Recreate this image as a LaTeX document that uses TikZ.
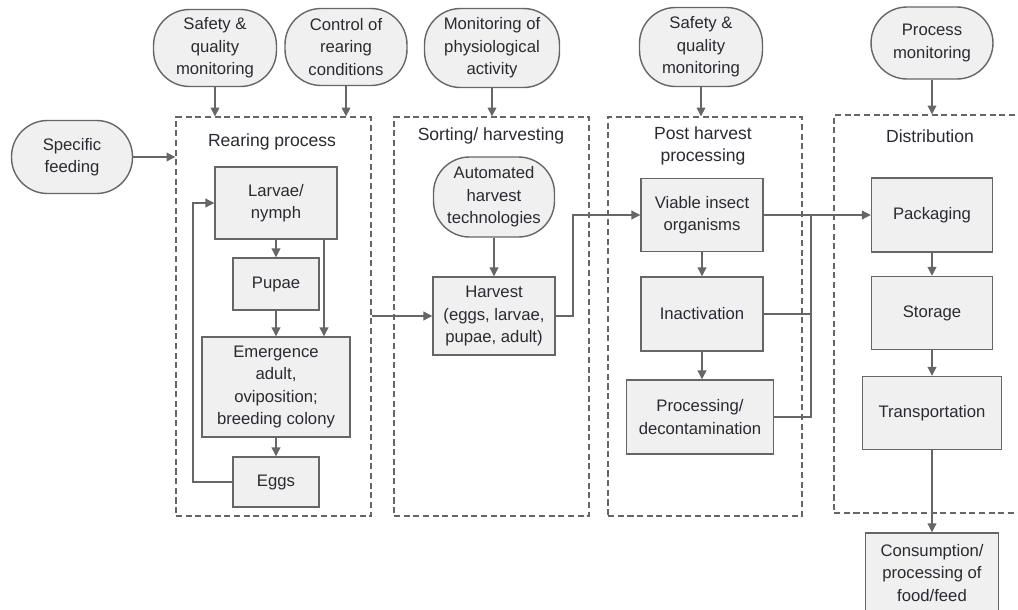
\documentclass[tikz,border=0pt]{standalone}
\usepackage{fontspec}
\setmainfont{Liberation Sans}
\usetikzlibrary{arrows.meta}
\definecolor{boxfill}{HTML}{F0F0F0}
\definecolor{boxline}{HTML}{666666}
\definecolor{txt}{HTML}{2A2A32}
\begin{document}
\begin{tikzpicture}[x=0.02cm,y=-0.02cm,
  font=\fontsize{9.5}{12.8}\selectfont, text=txt,
  procbox/.style={draw=boxline, fill=boxfill, line width=0.85pt, inner sep=0pt, align=center},
  pill/.style={draw=boxline, fill=boxfill, line width=0.8pt, rounded corners=20.5pt, inner sep=0pt, align=center},
  group/.style={draw=boxline, dash pattern=on 3.5pt off 2pt, line width=0.8pt, inner sep=0pt},
  conn/.style={draw=boxline, line width=0.65pt},
  arr/.style={conn, -{Triangle[length=5pt,width=5pt]}},
  grouptitle/.style={font=\fontsize{10}{12.5}\selectfont, align=center}
]
\useasboundingbox (0,0) rectangle (1018,609);

% group boxes
\node[group, minimum width=3.9cm, minimum height=7.98cm] (rear) at (273.5,316.5) {};
\node[group, minimum width=3.9cm, minimum height=7.98cm] (sort) at (491.5,316.5) {};
\node[group, minimum width=3.88cm, minimum height=7.98cm] (post) at (705,316.5) {};
\node[group, minimum width=3.92cm, minimum height=7.96cm] (dist) at (932,314) {};

\node[grouptitle] (trear) at (272,142) {Rearing process};
\node[grouptitle] (tsort) at (491,136) {Sorting/ harvesting};
\node[grouptitle] (tpost) at (703,146) {Post harvest\\processing};
\node[grouptitle] (tdist) at (930,136) {Distribution};

% pills
\node[pill, minimum width=2.46cm, minimum height=1.54cm] (e1) at (215,48) {Safety \&\\quality\\monitoring};
\node[pill, minimum width=2.44cm, minimum height=1.54cm] (e2) at (346,47) {Control of\\rearing\\conditions};
\node[pill, minimum width=2.7cm, minimum height=1.58cm] (e3) at (492,48) {Monitoring of\\physiological\\activity};
\node[pill, minimum width=2.46cm, minimum height=1.58cm] (e4) at (701,47) {Safety \&\\quality\\monitoring};
\node[pill, minimum width=2.44cm, minimum height=1.44cm] (e5) at (932,43) {Process\\monitoring};
\node[pill, minimum width=2.42cm, minimum height=1.46cm] (feed) at (72,157) {Specific\\feeding};
\node[pill, minimum width=2.42cm, minimum height=1.6cm] (auto) at (494,197) {Automated\\harvest\\technologies};

% process boxes
\node[procbox, minimum width=2.44cm, minimum height=1.44cm] (larvae) at (276,203) {Larvae/\\nymph};
\node[procbox, minimum width=1.72cm, minimum height=1.04cm] (pupae) at (276,284) {Pupae};
\node[procbox, minimum width=2.96cm, minimum height=2.0cm] (emerg) at (276,387) {Emergence\\adult,\\oviposition;\\breeding colony};
\node[procbox, minimum width=1.72cm, minimum height=1.0cm] (eggs) at (276,482) {Eggs};
\node[procbox, minimum width=2.44cm, minimum height=1.56cm] (harvest) at (494,316) {Harvest\\(eggs, larvae,\\pupae, adult)};
\node[procbox, minimum width=2.44cm, minimum height=1.46cm] (viable) at (702,215) {Viable insect\\organisms};
\node[procbox, minimum width=2.44cm, minimum height=1.48cm] (inact) at (702,314) {Inactivation};
\node[procbox, minimum width=2.94cm, minimum height=1.48cm] (procd) at (700,417) {Processing/\\decontamination};
\node[procbox, minimum width=2.42cm, minimum height=1.48cm] (pack) at (932,215) {Packaging};
\node[procbox, minimum width=2.42cm, minimum height=1.46cm] (stor) at (932,313) {Storage};
\node[procbox, minimum width=2.78cm, minimum height=1.46cm] (trans) at (932,413) {Transportation};
\node[procbox, minimum width=2.66cm, minimum height=1.6cm] (cons) at (932,573) {Consumption/\\processing of\\food/feed};

% helper coordinates
\coordinate (lx) at (324,0);
\coordinate (loopx) at (193,0);
\coordinate (hx) at (573,0);
\coordinate (mx) at (811,0);

% connectors
\draw[arr] (e1.south) -- (e1.south |- rear.north);
\draw[arr] (e2.south) -- (e2.south |- rear.north);
\draw[arr] (e3.south) -- (e3.south |- sort.north);
\draw[arr] (e4.south) -- (e4.south |- post.north);
\draw[arr] (e5.south) -- (e5.south |- dist.north);
\draw[arr] (feed.east) -- (feed.east -| rear.west);

\draw[arr] (larvae) -- (pupae);
\draw[arr] (larvae.south -| lx) -- (emerg.north -| lx);
\draw[arr] (pupae) -- (emerg);
\draw[arr] (emerg) -- (eggs);
\draw[arr] (eggs.west) -- (eggs.west -| loopx) |- (larvae.west);

\draw[arr] (rear.east |- harvest.west) -- (harvest.west);
\draw[arr] (auto) -- (harvest);
\draw[arr] (harvest.east) -- (harvest.east -| hx) |- (viable.west);

\draw[arr] (viable) -- (inact);
\draw[arr] (inact.south) -- (inact.south |- procd.north);
\draw[arr] (viable.east) -- (pack.west);
\draw[conn] (inact.east) -| (mx |- viable.east);
\draw[conn] (procd.east) -| (mx |- inact.east);

\draw[arr] (pack) -- (stor);
\draw[arr] (stor) -- (trans);
\draw[arr] (trans) -- (cons);
\end{tikzpicture}
\end{document}
